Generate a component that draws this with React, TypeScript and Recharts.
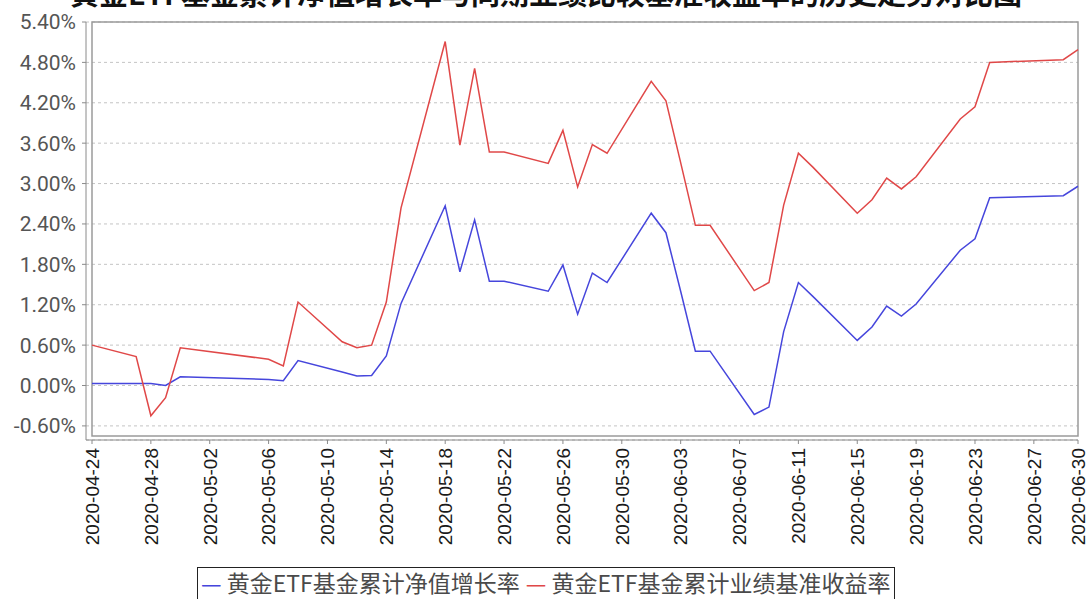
import { LineChart, Line, XAxis, YAxis, CartesianGrid, ReferenceArea } from "recharts";

const dates = [
  "2020-04-24", "2020-04-27", "2020-04-28", "2020-04-29", "2020-04-30",
  "2020-05-06", "2020-05-07", "2020-05-08", "2020-05-11", "2020-05-12",
  "2020-05-13", "2020-05-14", "2020-05-15", "2020-05-18", "2020-05-19",
  "2020-05-20", "2020-05-21", "2020-05-22", "2020-05-25", "2020-05-26",
  "2020-05-27", "2020-05-28", "2020-05-29", "2020-06-01", "2020-06-02",
  "2020-06-03", "2020-06-04", "2020-06-05", "2020-06-08", "2020-06-09",
  "2020-06-10", "2020-06-11", "2020-06-12", "2020-06-15", "2020-06-16",
  "2020-06-17", "2020-06-18", "2020-06-19", "2020-06-22", "2020-06-23",
  "2020-06-24", "2020-06-29", "2020-06-30",
];

// 黄金ETF基金累计净值增长率 (%)
const navGrowth = [
  0.03, 0.03, 0.03, 0.0, 0.13,
  0.09, 0.07, 0.37, 0.2, 0.14,
  0.15, 0.44, 1.22, 2.67, 1.69,
  2.46, 1.55, 1.55, 1.4, 1.79,
  1.06, 1.67, 1.53, 2.56, 2.27,
  1.4, 0.51, 0.51, -0.43, -0.32,
  0.8, 1.53, 1.32, 0.67, 0.87,
  1.18, 1.03, 1.21, 2.01, 2.18,
  2.79, 2.82, 2.96,
];

// 黄金ETF基金累计业绩基准收益率 (%)
const benchmark = [
  0.6, 0.43, -0.45, -0.18, 0.56,
  0.39, 0.29, 1.24, 0.65, 0.56,
  0.6, 1.24, 2.64, 5.11, 3.57,
  4.71, 3.47, 3.47, 3.3, 3.79,
  2.95, 3.58, 3.45, 4.52, 4.23,
  3.31, 2.38, 2.38, 1.41, 1.53,
  2.68, 3.45, 3.24, 2.56, 2.76,
  3.08, 2.92, 3.1, 3.96, 4.14,
  4.8, 4.84, 4.99,
];

const xTickLabels = [
  "2020-04-24", "2020-04-28", "2020-05-02", "2020-05-06", "2020-05-10",
  "2020-05-14", "2020-05-18", "2020-05-22", "2020-05-26", "2020-05-30",
  "2020-06-03", "2020-06-07", "2020-06-11", "2020-06-15", "2020-06-19",
  "2020-06-23", "2020-06-27", "2020-06-30",
];

const yTicks = [-0.6, 0, 0.6, 1.2, 1.8, 2.4, 3.0, 3.6, 4.2, 4.8, 5.4];

const seriesNames = ["黄金ETF基金累计净值增长率", "黄金ETF基金累计业绩基准收益率"];
const seriesColors = ["#4646dc", "#e04848"];

const title = "黄金ETF基金累计净值增长率与同期业绩比较基准收益率的历史走势对比图";

const start = Date.parse(dates[0]);
const dayOf = (d: string) => Math.round((Date.parse(d) - start) / 86400000);

const chartData = dates.map((d, i) => ({
  day: dayOf(d),
  nav: navGrowth[i],
  bench: benchmark[i],
}));

const xTicks = xTickLabels.map(dayOf);
const labelByDay: Record<number, string> = {};
xTickLabels.forEach((d) => (labelByDay[dayOf(d)] = d));
const lastDay = dayOf(xTickLabels[xTickLabels.length - 1]);

const XTick = (props: any) => {
  const { x, y, payload } = props;
  return (
    <text
      x={x}
      y={y}
      dy="0.36em"
      transform={`rotate(-90, ${x}, ${y})`}
      textAnchor="end"
      fill="#1a1a1a"
      fontSize={19}
      fontFamily="'Liberation Sans', Arial, sans-serif"
    >
      {labelByDay[payload.value]}
    </text>
  );
};

export default function App() {
  return (
    <div style={{ position: "absolute", left: 0, top: 0, width: 1087, height: 599, overflow: "hidden", background: "#fff" }}>
      <div
        style={{
          position: "absolute",
          left: 0,
          width: 1092,
          top: -22,
          textAlign: "center",
          fontFamily: "'Noto Sans CJK SC', sans-serif",
          fontSize: 29,
          lineHeight: "29px",
          fontWeight: 700,
          color: "#111",
          whiteSpace: "nowrap",
        }}
      >
        {title}
      </div>
      <LineChart width={1087} height={599} data={chartData} margin={{ top: 22, right: 9, bottom: 49, left: 0 }}>
        <CartesianGrid vertical={false} stroke="#c4c4c4" strokeDasharray="3 3" />
        <XAxis
          dataKey="day"
          type="number"
          domain={[0, lastDay]}
          ticks={xTicks}
          interval={0}
          padding={{ left: 6, right: 0 }}
          height={110}
          stroke="#8a8a8a"
          tickSize={4}
          tickMargin={4}
          tick={<XTick />}
        />
        <YAxis
          type="number"
          domain={[-0.75, 5.4]}
          ticks={yTicks}
          interval={0}
          padding={{ top: 0, bottom: 4 }}
          width={86}
          stroke="#8a8a8a"
          tickSize={4}
          tickMargin={6}
          tick={{ fill: "#555", fontSize: 21, fontFamily: "Roboto, sans-serif" }}
          tickFormatter={(v: number) => v.toFixed(2) + "%"}
        />
        <ReferenceArea
          x1={0}
          x2={lastDay}
          y1={-0.75}
          y2={5.4}
          fill="none"
          stroke="#9a9a9a"
          strokeWidth={1.5}
          ifOverflow="visible"
        />
        <Line type="linear" dataKey="nav" name={seriesNames[0]} stroke={seriesColors[0]} strokeWidth={1.5} dot={false} isAnimationActive={false} />
        <Line type="linear" dataKey="bench" name={seriesNames[1]} stroke={seriesColors[1]} strokeWidth={1.5} dot={false} isAnimationActive={false} />
      </LineChart>
      <div
        style={{
          position: "absolute",
          left: 197,
          top: 567,
          width: 698,
          height: 40,
          border: "1px solid #222",
          boxSizing: "border-box",
          fontFamily: "'Noto Sans CJK SC', sans-serif",
          fontSize: 23,
          lineHeight: "28px",
          color: "#4a4a4a",
          whiteSpace: "nowrap",
          paddingLeft: 3,
        }}
      >
        {seriesNames.map((n, i) => (
          <span key={n} style={{ marginRight: 6 }}>
            <span style={{ color: seriesColors[i] }}>—</span> {n}
          </span>
        ))}
      </div>
    </div>
  );
}
